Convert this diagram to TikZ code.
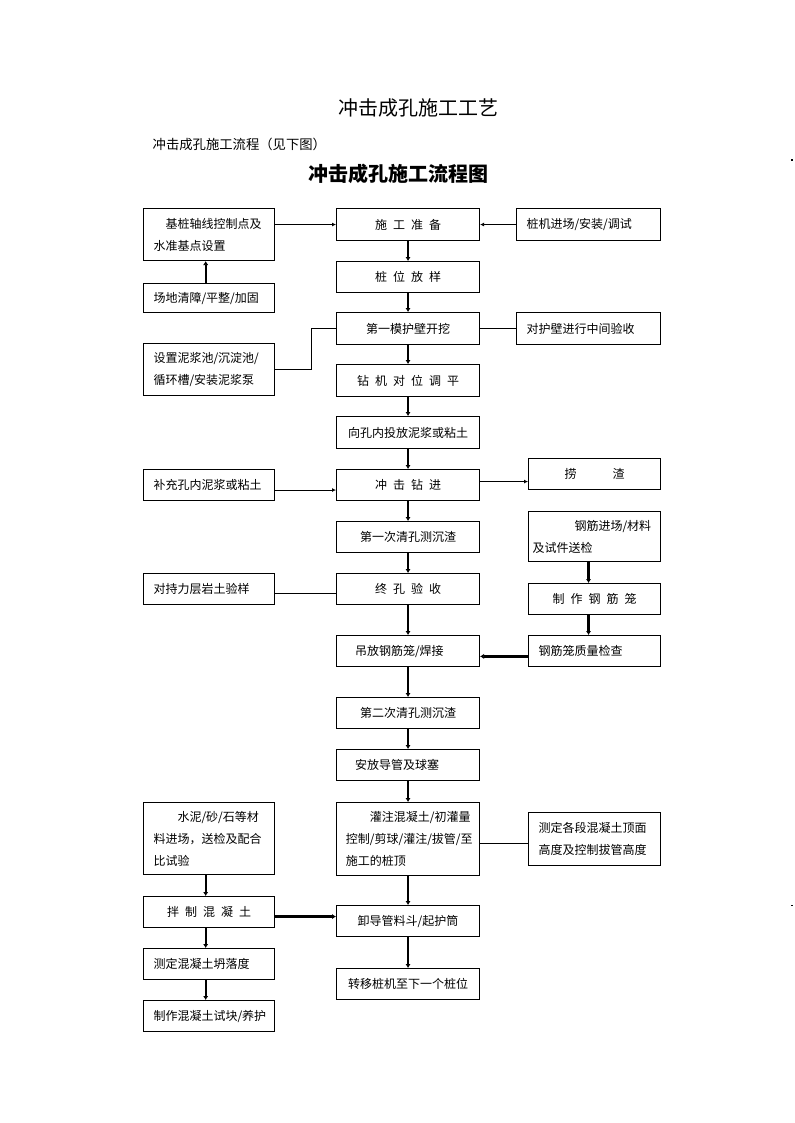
\documentclass[tikz,border=0pt]{standalone}
\usepackage{fontspec}
\setmainfont{Noto Sans CJK SC}
\usetikzlibrary{arrows.meta,calc}
\newcommand\kg{\hspace{0.5em}}
\newcommand\bx[7]{%
  \pgfmathsetmacro\bw{(#4-#2)*0.75}\pgfmathsetmacro\bh{(#5-#3)*0.75}%
  \node[box,minimum width=\bw pt,minimum height=\bh pt,#6] (#1) at (#2,#3) {#7};}
\tikzset{
  box/.style={draw, line width=0.8pt, anchor=north west, inner sep=0pt, align=center,
    font=\fontsize{9}{16.5}\selectfont},
  lftL/.style={align=left, text width=83.25pt, inner xsep=7.5pt},
  lftR/.style={align=left, text width=93pt, inner xsep=7.5pt},
  lftS/.style={align=left, text width=84pt, inner xsep=7.5pt},
  lftC/.style={align=left, text width=93.25pt, inner xsep=7pt},
  arr/.style={-{Latex[length=3pt,width=3pt]}, line width=0.75pt},
  tarr/.style={-{Latex[length=3pt,width=4pt]}, line width=1.8pt},
  ln/.style={line width=0.75pt}
}
\begin{document}
\begin{tikzpicture}[x=0.75pt,y=-0.75pt]
\useasboundingbox (0,0) rectangle (794,1123);
% titles
\node[font=\fontsize{15}{18}\selectfont] (t1) at (418,108) {冲击成孔施工工艺};
\node[anchor=west,font=\fontsize{10}{12}\selectfont] (t2) at (148,144) {冲击成孔施工流程（见下图）};
\node[font=\fontsize{15}{18}\selectfont\bfseries] (t3) at (398,174) {冲击成孔施工流程图};
% left column
\bx{L1}{143}{208}{274}{260}{lftL}{\hspace*{1em}基桩轴线控制点及\\水准基点设置}
\bx{L2}{143}{283}{274}{312}{lftL}{场地清障/平整/加固}
\bx{L3}{143}{343}{274}{395}{lftL}{设置泥浆池/沉淀池/\\循环槽/安装泥浆泵}
\bx{L4}{143}{469}{274}{500}{lftL}{补充孔内泥浆或粘土}
\bx{L5}{143}{573}{274}{604}{lftL}{对持力层岩土验样}
\bx{L6}{143}{802}{274}{874}{lftL}{\hspace*{2em}水泥/砂/石等材\\料进场，送检及配合\\比试验}
\bx{L7}{143}{896}{274}{927}{}{拌\kg 制\kg 混\kg 凝\kg 土}
\bx{L8}{143}{948}{274}{979}{lftL}{测定混凝土坍落度}
\bx{L9}{143}{1000}{274}{1031}{lftL}{制作混凝土试块/养护}
% center column
\bx{C1}{336}{208}{479}{240}{}{施\kg 工\kg 准\kg 备}
\bx{C2}{336}{261}{479}{292}{}{桩\kg 位\kg 放\kg 样}
\bx{C3}{336}{312}{479}{344}{}{第一模护壁开挖}
\bx{C4}{336}{364}{479}{396}{}{钻\kg 机\kg 对\kg 位\kg 调\kg 平}
\bx{C5}{336}{416}{479}{448}{}{向孔内投放泥浆或粘土}
\bx{C6}{336}{469}{479}{500}{}{冲\kg 击\kg 钻\kg 进}
\bx{C7}{336}{521}{479}{552}{}{第一次清孔测沉渣}
\bx{C8}{336}{573}{479}{604}{}{终\kg 孔\kg 验\kg 收}
\bx{C9}{336}{635}{479}{666}{align=left,text width=91.5pt,inner xsep=7.875pt}{\hspace*{6pt}吊放钢筋笼/焊接}
\bx{C10}{336}{697}{479}{728}{}{第二次清孔测沉渣}
\bx{C11}{336}{749}{479}{780}{align=left,text width=91.5pt,inner xsep=7.875pt}{\hspace*{6pt}安放导管及球塞}
\bx{C12}{336}{802}{479}{875}{lftC}{\hspace*{2em}灌注混凝土/初灌量\\控制/剪球/灌注/拔管/至\\施工的桩顶}
\bx{C13}{336}{905}{479}{936}{}{卸导管料斗/起护筒}
\bx{C14}{336}{968}{479}{999}{}{转移桩机至下一个桩位}
% right column
\bx{R1}{516}{208}{660}{240}{lftR}{桩机进场/安装/调试}
\bx{R2}{516}{312}{660}{344}{lftR}{对护壁进行中间验收}
\bx{R3}{528}{458}{660}{489}{}{捞\hspace{3em}渣}
\bx{R4}{528}{511}{660}{561}{align=left,text width=93pt,inner xsep=3pt}{\hspace*{3.5em}钢筋进场/材料\\及试件送检}
\bx{R5}{528}{583}{660}{614}{}{制\kg 作\kg 钢\kg 筋\kg 笼}
\bx{R6}{528}{635}{660}{666}{lftS}{钢筋笼质量检查}
\bx{R7}{528}{812}{660}{865}{lftS}{测定各段混凝土顶面\\高度及控制拔管高度}
% center chain
\foreach \a/\b in {C1/C2,C2/C3,C3/C4,C4/C5,C5/C6,C6/C7,C7/C8,C8/C9,C9/C10,C10/C11,C11/C12,C12/C13,C13/C14}
  \draw[tarr] (\a.south) -- (\b.north);
% left verticals
\draw[tarr] ([xshift=-2.5pt]L2.north) -- ([xshift=-2.5pt]L1.south);
\draw[tarr] ([xshift=-2.5pt]L6.south) -- ([xshift=-2.5pt]L7.north);
\draw[tarr] ([xshift=-2.5pt]L7.south) -- ([xshift=-2.5pt]L8.north);
\draw[tarr] ([xshift=-2.5pt]L8.south) -- ([xshift=-2.5pt]L9.north);
% right verticals
\draw[tarr] ([xshift=-4.5pt]R4.south) -- ([xshift=-4.5pt]R5.north);
\draw[tarr] ([xshift=-4.5pt]R5.south) -- ([xshift=-4.5pt]R6.north);
% horizontals
\draw[arr] (L1.east |- C1.west) -- (C1.west);
\draw[arr] (R1.west) -- (C1.east);
\draw[ln] (C3.east) -- (R2.west);
\draw[ln] (L3.east) -| ([xshift=-18.75pt]C3.west) -- (C3.west);
\draw[arr] ([yshift=-3.75pt]L4.east) -- ([yshift=-3.75pt]C6.west);
\coordinate (c6r) at ([yshift=2.6pt]C6.east);
\draw[arr] (c6r) -- (c6r -| R3.west);
\draw[tarr] ([yshift=-4pt]R6.west) -- ([yshift=-4pt]C9.east);
\draw[ln] ([yshift=-3.4pt]L5.east) -- ([yshift=-3.4pt]C8.west);
\draw[ln] ([yshift=-3.4pt]C12.east) -- ([yshift=-3.4pt]R7.west);
\coordinate (l7r) at ([yshift=-3.4pt]L7.east);
\draw[tarr] (l7r) -- (l7r -| C13.west);
% edge marks
\fill (791,159) rectangle (793,161);
\fill (791,905) rectangle (793,906);
\end{tikzpicture}
\end{document}
